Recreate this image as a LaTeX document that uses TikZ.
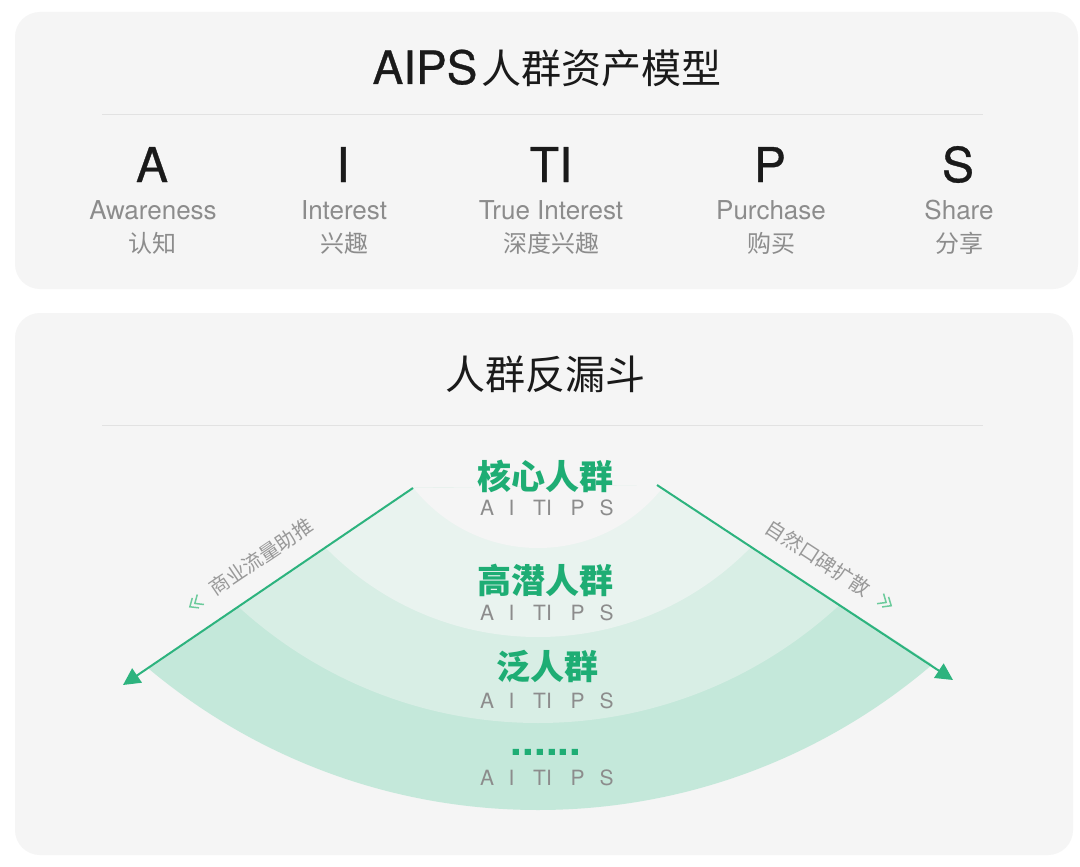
\documentclass[tikz,border=0pt]{standalone}
\usepackage{fontspec}
\setmainfont{TeX Gyre Heros}
\newfontfamily\heavy[FakeBold=0.7]{TeX Gyre Heros}
\newfontfamily\cjk{Noto Sans CJK SC}
\usetikzlibrary{arrows.meta}
\definecolor{panelc}{HTML}{F5F5F5}
\definecolor{sepc}{HTML}{E2E2E2}
\definecolor{titlec}{HTML}{1A1A1A}
\definecolor{graytext}{HTML}{8C8C8C}
\definecolor{rotgray}{HTML}{999999}
\definecolor{greentext}{HTML}{1EAD74}
\definecolor{arrowgreen}{HTML}{2DB37E}
\definecolor{chevgreen}{HTML}{6CCB9C}
\definecolor{bandA}{HTML}{E9F3EF}
\definecolor{bandB}{HTML}{D8EEE5}
\definecolor{bandC}{HTML}{C4E8DA}
\begin{document}
\begin{tikzpicture}[x=1pt,y=-1pt,
  panel/.style={fill=panelc, rounded corners=25pt},
  sepline/.style={draw=sepc, line width=1pt},
  titletext/.style={text=titlec, inner sep=0pt},
  bigletter/.style={font=\heavy\fontsize{48}{52}\selectfont, text=titlec, anchor=base, inner sep=0pt},
  enword/.style={font=\fontsize{26}{30}\selectfont, text=graytext, anchor=base, inner sep=0pt},
  cnword/.style={font=\cjk\fontsize{24}{28}\selectfont, text=graytext, inner sep=0pt},
  grp/.style={font=\cjk\bfseries\fontsize{34}{38}\selectfont, text=greentext, inner sep=0pt},
  atips/.style={font=\fontsize{21}{24}\selectfont, text=graytext, anchor=base, inner sep=0pt},
  rotlabel/.style={font=\cjk\fontsize{20}{24}\selectfont, text=rotgray, inner sep=0pt},
  arrowline/.style={draw=arrowgreen, line width=2pt, -{Triangle[width=17pt,length=17pt]}},
  chev/.style={draw=chevgreen, line width=1.5pt}
]
\useasboundingbox (0,0) rectangle (1080,867);
\fill[white] (0,0) rectangle (1080,867);

% panels
\fill[panel] (15,12) rectangle (1078,289);
\fill[panel] (15,313) rectangle (1073,855);

% ---------- top panel ----------
\node[titletext, anchor=base] (title1) at (547,84)
  {{\heavy\fontsize{46}{50}\selectfont AIPS}\hspace{4pt}{\cjk\fontsize{40}{44}\selectfont 人群资产模型}};
\coordinate (s1l) at (102,115);
\coordinate (s1r) at (983,115);
\draw[sepline] (s1l) -- (s1r);

\node[bigletter] (LA) at (152,182) {A};
\node[bigletter] (LI) at (343,182) {I};
\node[bigletter] (LTI) at (551,182) {TI};
\node[bigletter] (LP) at (770,182) {P};
\node[bigletter] (LS) at (958,182) {S};

\node[enword] (EA) at (153,219) {Awareness};
\node[enword] (EI) at (344,219) {Interest};
\node[enword] (ETI) at (551,219) {True Interest};
\node[enword] (EP) at (771,219) {Purchase};
\node[enword] (ES) at (959,219) {Share};

\node[cnword] (CA) at (152,243.5) {认知};
\node[cnword] (CI) at (344,243.5) {兴趣};
\node[cnword] (CTI) at (551,243.5) {深度兴趣};
\node[cnword] (CP) at (771,243.5) {购买};
\node[cnword] (CS) at (959,243.5) {分享};

% ---------- bottom panel ----------
\node[titletext, font=\cjk\fontsize{40}{44}\selectfont] (title2) at (545,374) {人群反漏斗};
\coordinate (s2l) at (102,425.5);
\coordinate (s2r) at (983,425.5);
\draw[sepline] (s2l) -- (s2r);

% funnel bands
\coordinate (lstart) at (413,488);
\coordinate (ltip) at (123,685);
\coordinate (rstart) at (657,485);
\coordinate (rtip) at (953,680);
\begin{scope}
  \clip (lstart) -- (36,744) -- (540,900) -- (1042,736) -- (rstart) -- cycle;
  \fill[bandC] (538,203) circle[radius=607];
  \fill[bandB] (538,279) circle[radius=444];
  \fill[bandA] (538,340) circle[radius=297];
  \fill[panelc] (538,389) circle[radius=159];
\end{scope}

% arrows
\draw[arrowline] (lstart) -- (ltip);
\draw[arrowline] (rstart) -- (rtip);

% rotated labels
\node[rotlabel, rotate=34] (lablL) at (261,557) {商业流量助推};
\node[rotlabel, rotate=-33] (lablR) at (818,558) {自然口碑扩散};

% chevrons
\begin{scope}[shift={(194,604)}, rotate=34]
  \draw[chev] (2,-6) -- (-5,0) -- (2,6);
  \draw[chev] (8,-6) -- (1,0) -- (8,6);
\end{scope}
\begin{scope}[shift={(887,603)}, rotate=-33]
  \draw[chev] (-2,-6) -- (5,0) -- (-2,6);
  \draw[chev] (-8,-6) -- (-1,0) -- (-8,6);
\end{scope}

% group labels
\node[grp] (g1) at (545.5,476) {核心人群};
\node[grp] (g2) at (545.5,580) {高潜人群};
\node[grp] (g3) at (547,666.5) {泛人群};
\node[font=\bfseries\fontsize{42}{44}\selectfont, text=greentext, inner sep=0pt, anchor=base] (g4) at (546,755) {......};

\foreach \r/\yy in {1/515,2/620,3/708,4/785} {
  \foreach \l/\xx in {A/487,I/511.5,TI/542.5,P/577.5,S/606.5} {
    \node[atips] (r\r\l) at (\xx,\yy) {\l};
  }
}
\end{tikzpicture}
\end{document}
